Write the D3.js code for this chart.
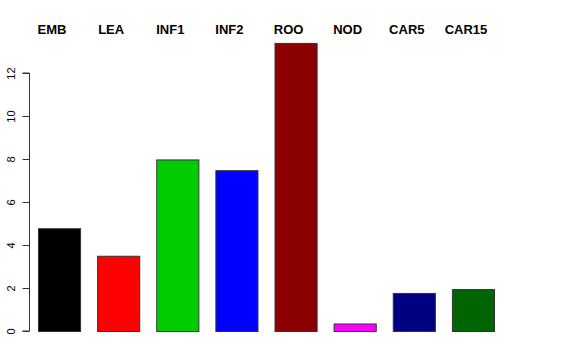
<!DOCTYPE html>
<html>
<head>
<meta charset="utf-8">
<script src="https://cdn.jsdelivr.net/npm/d3@7"></script>
<style>
  body { margin: 0; background: #fff; }
  svg { display: block; font-family: "Liberation Sans", Arial, sans-serif; }
</style>
</head>
<body>
<svg width="576" height="360"></svg>
<script>
// chart data
const categories = ["EMB", "LEA", "INF1", "INF2", "ROO", "NOD", "CAR5", "CAR15"];
const values = [4.78, 3.5, 7.98, 7.48, 13.4, 0.35, 1.77, 1.95];
const barColors = ["#000000", "#ff0000", "#00cd00", "#0000ff", "#8b0000", "#ff00ff", "#000080", "#006400"];
const yTicks = [0, 2, 4, 6, 8, 10, 12];

const svg = d3.select("svg");

// scales
const x = d3.scaleBand()
  .domain(categories)
  .range([38, 494])
  .paddingInner(0.288)
  .paddingOuter(0);

const y = d3.scaleLinear()
  .domain([0, 12])
  .range([331, 73]);

// bars
svg.append("g")
  .selectAll("rect")
  .data(categories)
  .enter().append("rect")
  .attr("x", d => x(d) + 0.5)
  .attr("y", (d, i) => y(values[i]) + 0.5)
  .attr("width", x.bandwidth())
  .attr("height", (d, i) => y(0) - y(values[i]))
  .attr("fill", (d, i) => barColors[i])
  .attr("stroke", "#333")
  .attr("stroke-width", 1);

// y axis, R style with rotated labels
const yAxis = svg.append("g")
  .attr("transform", "translate(29.5,0)")
  .call(d3.axisLeft(y).tickValues(yTicks).tickSize(7).tickFormat(d3.format("d")));

yAxis.select(".domain")
  .attr("d", `M-7,${y(0)}H0V${y(12)}H-7`)
  .attr("stroke", "#333");
yAxis.selectAll(".tick line").attr("stroke", "#333");
yAxis.selectAll(".tick text")
  .attr("font-size", 11)
  .attr("font-family", "Liberation Sans, Arial, sans-serif")
  .attr("fill", "#000")
  .attr("text-anchor", "middle")
  .attr("dy", 0)
  .attr("transform", "translate(-15,0) rotate(-90)")
  .attr("x", 0)
  .attr("y", 0);

// category labels across the top
svg.append("g")
  .selectAll("text")
  .data(categories)
  .enter().append("text")
  .attr("x", d => x(d) + x.bandwidth() / 2 - 7)
  .attr("y", 34)
  .attr("text-anchor", "middle")
  .attr("font-size", 13)
  .attr("font-weight", "bold")
  .attr("fill", "#000")
  .text(d => d);
</script>
</body>
</html>
